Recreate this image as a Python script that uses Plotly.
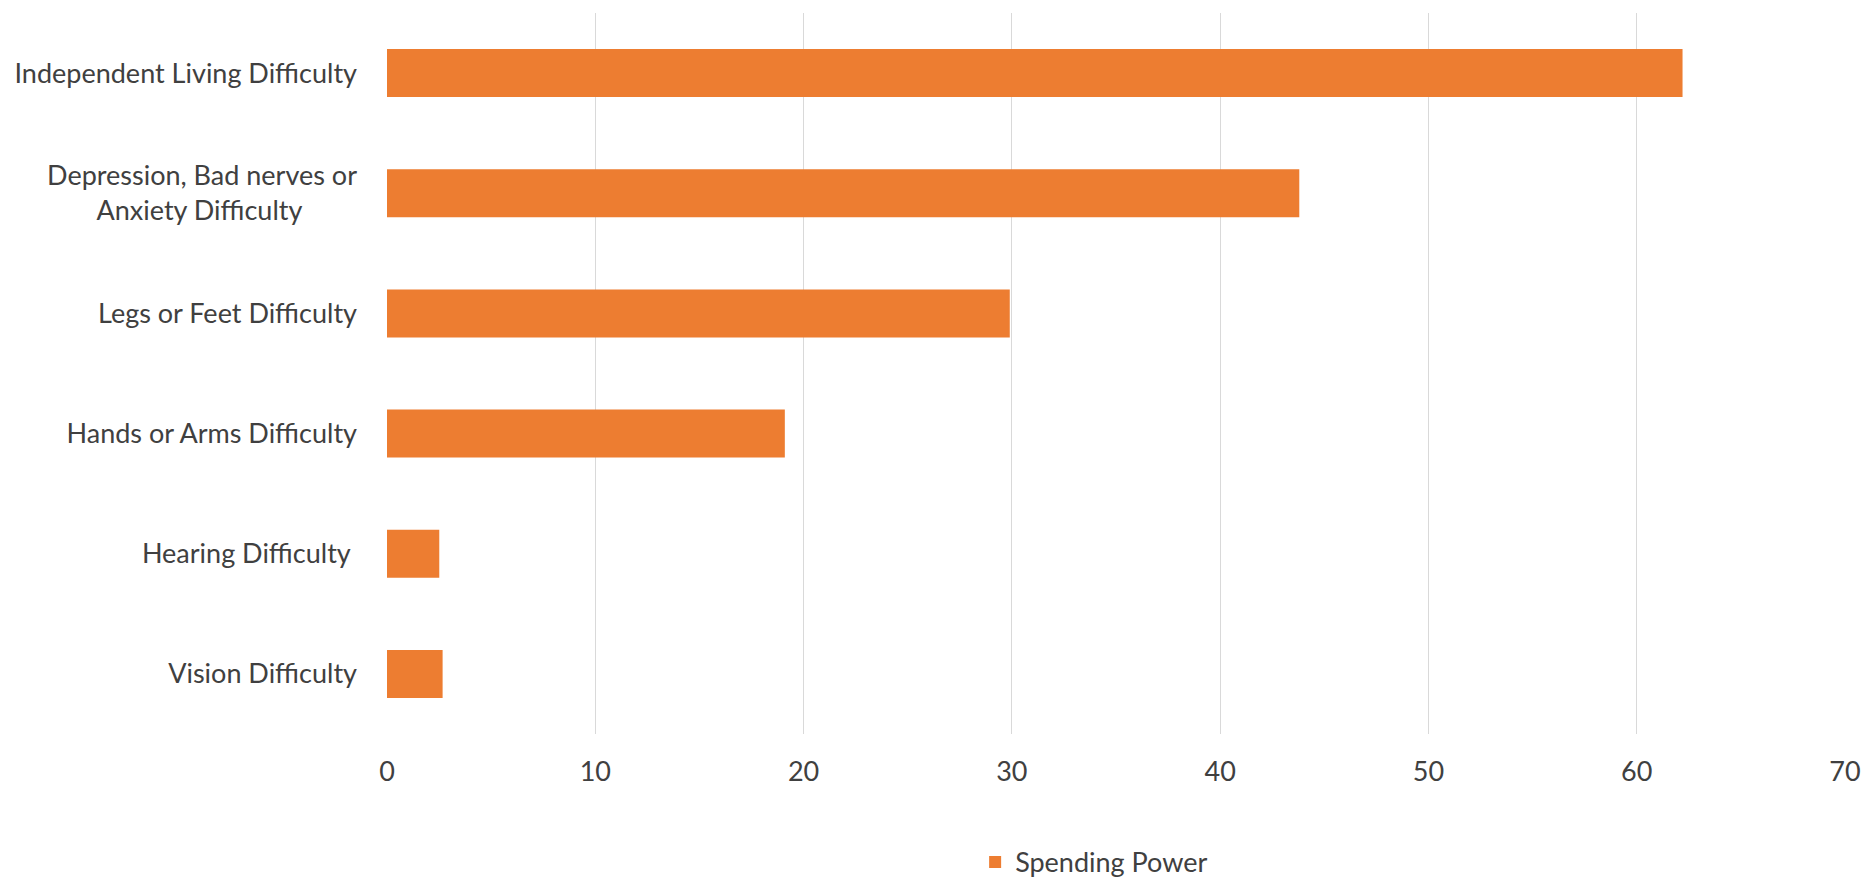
import plotly.graph_objects as go

categories = [
    "Vision Difficulty",
    "Hearing Difficulty\u00a0",
    "Hands or Arms Difficulty",
    "Legs or Feet Difficulty",
    "Depression, Bad nerves or<br>Anxiety Difficulty" + "\u00a0" * 8,
    "Independent Living Difficulty",
]
values = [2.67, 2.51, 19.1, 29.9, 43.8, 62.2]
series_name = "Spending Power"
x_ticks = [0, 10, 20, 30, 40, 50, 60, 70]

FONT = "Lato, 'Open Sans', sans-serif"
TEXT = "#404040"
FS = 27

fig = go.Figure(
    go.Bar(
        y=categories,
        x=values,
        orientation="h",
        name=series_name,
        marker=dict(color="#ED7D31", line=dict(width=0)),
        showlegend=True,
    )
)

fig.update_layout(
    width=1866,
    height=878,
    paper_bgcolor="white",
    plot_bgcolor="white",
    margin=dict(l=387, r=21, t=13, b=144, autoexpand=False),
    bargap=0.6,
    font=dict(family=FONT, size=FS, color=TEXT),
    legend=dict(
        orientation="h",
        x=0.485,
        xanchor="center",
        y=-0.178,
        yanchor="middle",
        font=dict(family=FONT, size=FS, color=TEXT),
        itemwidth=30,
    ),
)

fig.update_xaxes(
    range=[0, 70],
    tickvals=x_ticks,
    showgrid=True,
    gridcolor="#D9D9D9",
    gridwidth=1,
    zeroline=False,
    showline=False,
    ticks="",
    ticklabelstandoff=19,
    tickfont=dict(family=FONT, size=FS, color=TEXT),
    automargin=False,
)
fig.update_yaxes(
    categoryorder="array",
    categoryarray=categories,
    showgrid=False,
    zeroline=False,
    showline=False,
    ticks="",
    ticklabelstandoff=29,
    tickfont=dict(family=FONT, size=FS, color=TEXT),
    automargin=False,
)

fig.write_html(
    "out.html",
    config={"displayModeBar": False},
    post_script="document.body.style.margin='0';document.body.style.overflow='hidden';",
)
